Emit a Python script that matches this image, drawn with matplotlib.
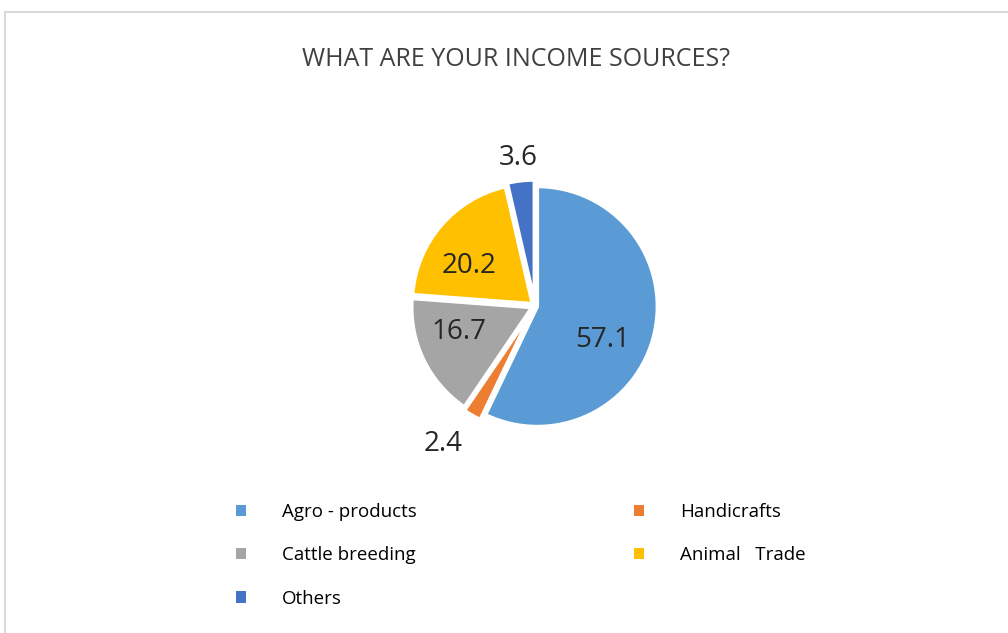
import matplotlib.pyplot as plt
import matplotlib.patches as mpatches
import numpy as np

categories = ['Agro - products', 'Handicrafts', 'Cattle breeding', 'Animal   Trade', 'Others']
values = [57.1, 2.4, 16.7, 20.2, 3.6]
colors = ['#5b9bd5', '#ed7d31', '#a5a5a5', '#ffc000', '#4472c4']
title = 'WHAT ARE YOUR INCOME SOURCES?'

plt.rcParams['font.family'] = ['Open Sans', 'DejaVu Sans']

W, H = 1008, 633
fig = plt.figure(figsize=(W / 100, H / 100), dpi=100)

# light frame like the original chart area
fig.patches.append(mpatches.Rectangle((5 / W, -0.1), 1.2, 1 - 12 / H + 0.1,
                                      transform=fig.transFigure, fill=False,
                                      edgecolor='#d9d9d9', linewidth=1.5))

fig.text(516 / W, 1 - 59 / H, title, ha='center', va='center',
         fontsize=18, color='#404040')

# pie axes: center at (535, 306) px, radius 120 px
cx, cy, R = 535, 306, 120
half = 160
ax = fig.add_axes([(cx - half) / W, 1 - (cy + half) / H, 2 * half / W, 2 * half / H])

explode = [0.02, 0.05, 0.03, 0.03, 0.05]
wedges, _ = ax.pie(values, colors=colors, startangle=90, counterclock=False,
                   explode=explode, radius=1,
                   wedgeprops=dict(edgecolor='white', linewidth=2.5))
lim = half / R
ax.set_xlim(-lim, lim)
ax.set_ylim(-lim, lim)
ax.set_aspect('equal')
ax.axis('off')

# label distance and angle tweak per slice
dists = [0.61, 1.33, 0.64, 0.61, 1.19]
tweak = [-14, -4, -7, 10, 0]
for w, v, d, t in zip(wedges, values, dists, tweak):
    ang = np.deg2rad((w.theta1 + w.theta2) / 2 + t)
    ox, oy = w.center
    ax.text(ox + d * np.cos(ang), oy + d * np.sin(ang), f'{v}',
            ha='center', va='center', fontsize=20, color='#262626')

order = [0, 2, 4, 1, 3]
leg = fig.legend([wedges[i] for i in order], [categories[i] for i in order],
                 ncol=2, loc='upper left', bbox_to_anchor=(219 / W, 1 - 486 / H),
                 frameon=False, fontsize=13.5, handlelength=0.55, handleheight=0.55,
                 handletextpad=1.9, columnspacing=11.6, labelspacing=1.35)
for h in leg.legend_handles:
    h.set_edgecolor('none')

fig.savefig('out.png', dpi=100)
